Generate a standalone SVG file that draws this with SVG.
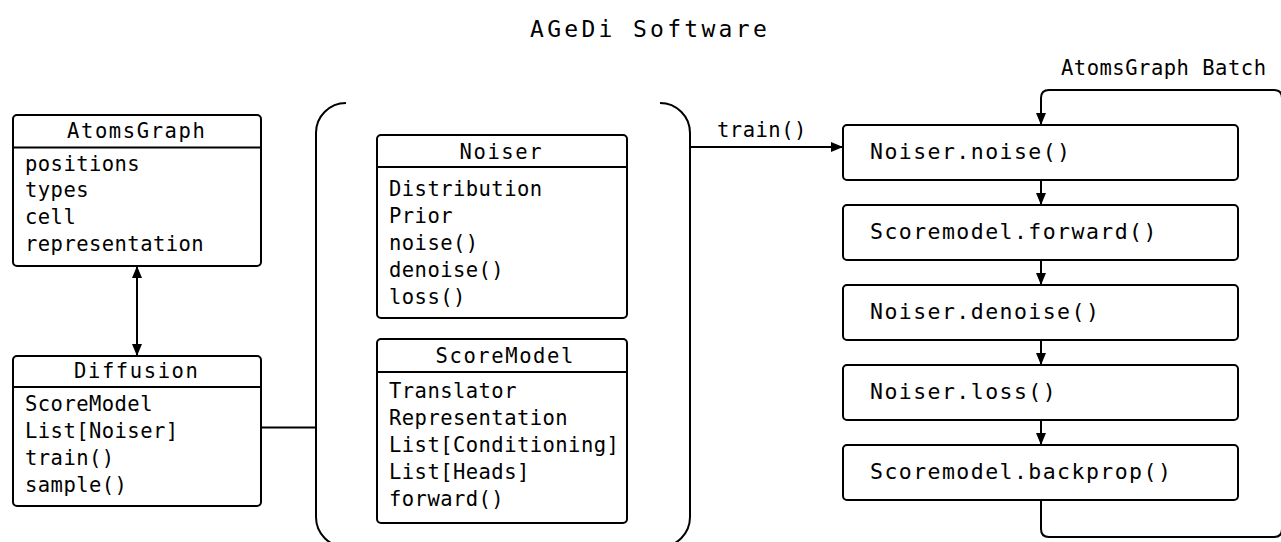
<svg xmlns="http://www.w3.org/2000/svg" width="1281" height="542" viewBox="0 0 1281 542">
<style>
text{font-family:"DejaVu Sans Mono","Liberation Mono",monospace;fill:#000}
.title{font-size:23px;letter-spacing:3.3px}
.hd{font-size:20.5px;letter-spacing:1.6px}
.bd{font-size:20.5px;letter-spacing:0.45px}
.fl{font-size:21.5px;letter-spacing:1.45px}
.lb{font-size:20.5px;letter-spacing:0.5px}
.box{fill:#fff;stroke:#000;stroke-width:2}
.ln{fill:none;stroke:#000;stroke-width:2}
</style>
<defs>
<marker id="ah" viewBox="0 0 12 10" refX="12" refY="5" markerWidth="12" markerHeight="10" markerUnits="userSpaceOnUse" orient="auto-start-reverse">
<path d="M0,0 L12,5 L0,10 z" fill="#000"/>
</marker>
</defs>
<rect width="1281" height="542" fill="#fff"/>
<text class="title" x="530" y="37">AGeDi Software</text>

<g id="connectors">
<line class="ln" x1="137" y1="266" x2="137" y2="356" marker-start="url(#ah)" marker-end="url(#ah)"/>
<line class="ln" x1="261" y1="427.5" x2="316" y2="427.5"/>
<line class="ln" x1="690" y1="147" x2="843" y2="147" marker-end="url(#ah)"/>
<text class="lb" x="717" y="136.5">train()</text>
<line class="ln" x1="1041" y1="180" x2="1041" y2="205" marker-end="url(#ah)"/>
<line class="ln" x1="1041" y1="260" x2="1041" y2="285" marker-end="url(#ah)"/>
<line class="ln" x1="1041" y1="340" x2="1041" y2="365" marker-end="url(#ah)"/>
<line class="ln" x1="1041" y1="420" x2="1041" y2="445" marker-end="url(#ah)"/>
<path class="ln" d="M1041,500 V529 Q1041,537 1049,537 H1274 Q1282,537 1282,529 V98 Q1282,90 1274,90 H1049 Q1041,90 1041,98 V125" marker-end="url(#ah)"/>
<text class="lb" x="1061" y="75">AtomsGraph Batch</text>
</g>

<g id="container">
<path class="ln" d="M346,103 A30,30 0 0 0 316,133 V517 A30,30 0 0 0 346,547"/>
<path class="ln" d="M660,103 A30,30 0 0 1 690,133 V517 A30,30 0 0 1 660,547"/>
</g>

<g id="atomsgraph">
<rect class="box" x="13" y="115" width="248" height="151" rx="4"/>
<line class="ln" x1="13" y1="147.5" x2="261" y2="147.5"/>
<text class="hd" x="67" y="138">AtomsGraph</text>
<text class="bd" x="25" y="170.5">positions</text>
<text class="bd" x="25" y="197">types</text>
<text class="bd" x="25" y="224">cell</text>
<text class="bd" x="25" y="251">representation</text>
</g>

<g id="diffusion">
<rect class="box" x="13" y="356" width="248" height="150" rx="4"/>
<line class="ln" x1="13" y1="387" x2="261" y2="387"/>
<text class="hd" x="74" y="378">Diffusion</text>
<text class="bd" x="25" y="411">ScoreModel</text>
<text class="bd" x="25" y="438">List[Noiser]</text>
<text class="bd" x="25" y="465">train()</text>
<text class="bd" x="25" y="492">sample()</text>
</g>

<g id="noiser">
<rect class="box" x="377" y="135" width="250" height="183" rx="4"/>
<line class="ln" x1="377" y1="167" x2="627" y2="167"/>
<text class="hd" x="459.5" y="158.5">Noiser</text>
<text class="bd" x="389" y="196">Distribution</text>
<text class="bd" x="389" y="222.5">Prior</text>
<text class="bd" x="389" y="249.5">noise()</text>
<text class="bd" x="389" y="276.5">denoise()</text>
<text class="bd" x="389" y="303.5">loss()</text>
</g>

<g id="scoremodel">
<rect class="box" x="377" y="339" width="250" height="184" rx="4"/>
<line class="ln" x1="377" y1="372" x2="627" y2="372"/>
<text class="hd" x="435.5" y="363">ScoreModel</text>
<text class="bd" x="389" y="398">Translator</text>
<text class="bd" x="389" y="425">Representation</text>
<text class="bd" x="389" y="452">List[Conditioning]</text>
<text class="bd" x="389" y="479">List[Heads]</text>
<text class="bd" x="389" y="506">forward()</text>
</g>

<g id="step-noise">
<rect class="box" x="843" y="125" width="395" height="55" rx="4"/>
<text class="fl" x="870" y="159">Noiser.noise()</text>
</g>
<g id="step-forward">
<rect class="box" x="843" y="205" width="395" height="55" rx="4"/>
<text class="fl" x="870" y="239">Scoremodel.forward()</text>
</g>
<g id="step-denoise">
<rect class="box" x="843" y="285" width="395" height="55" rx="4"/>
<text class="fl" x="870" y="319">Noiser.denoise()</text>
</g>
<g id="step-loss">
<rect class="box" x="843" y="365" width="395" height="55" rx="4"/>
<text class="fl" x="870" y="399">Noiser.loss()</text>
</g>
<g id="step-backprop">
<rect class="box" x="843" y="445" width="395" height="55" rx="4"/>
<text class="fl" x="870" y="479">Scoremodel.backprop()</text>
</g>
</svg>
